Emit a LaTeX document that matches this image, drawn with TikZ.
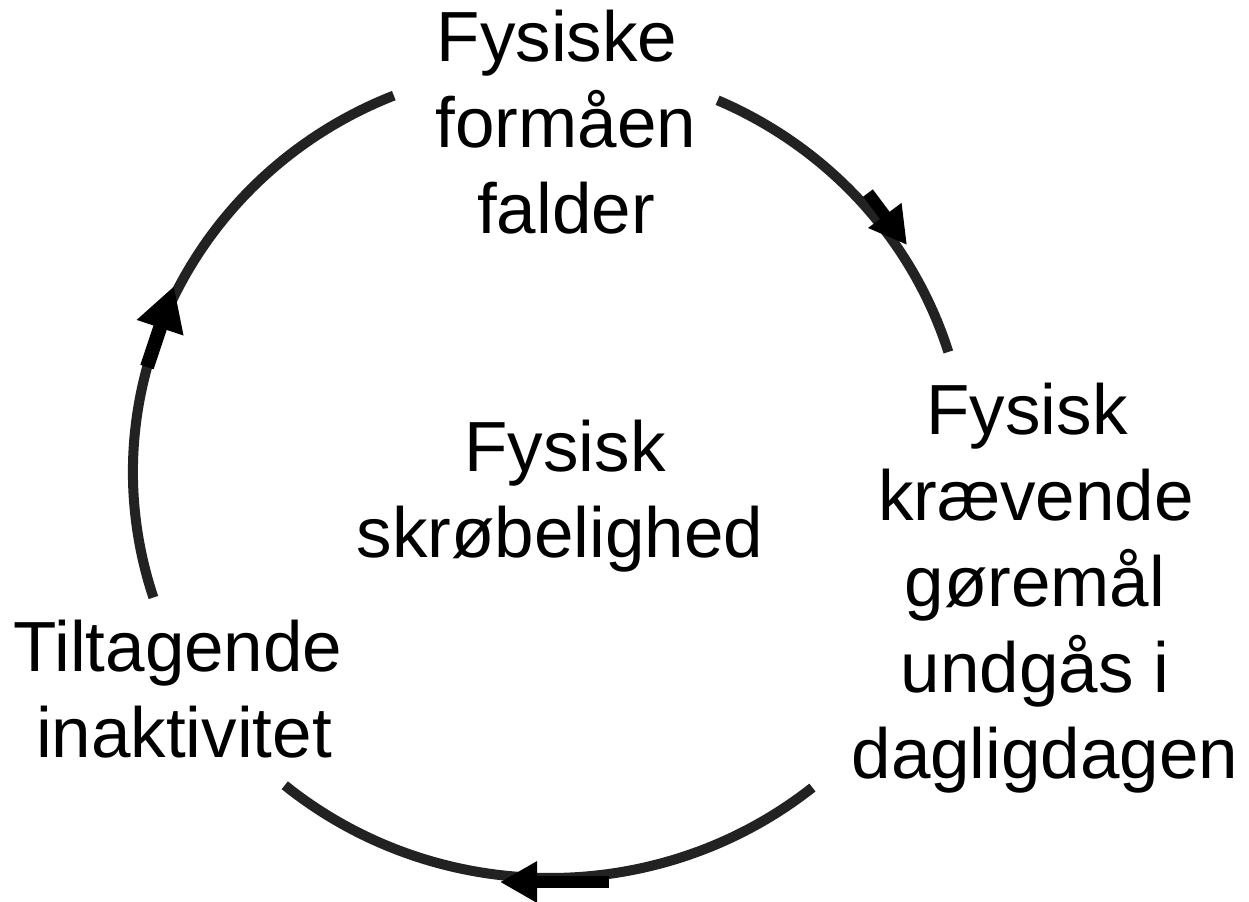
\documentclass[tikz,border=0pt]{standalone}
\usepackage{fontspec}
\setmainfont{Liberation Sans}
\usetikzlibrary{arrows.meta}
\definecolor{arcgray}{HTML}{222222}
\begin{document}
\begin{tikzpicture}[x=0.5pt,y=-0.5pt,
  cyclearc/.style={draw=arcgray,line width=5pt},
  cyclearrow/.style={draw=black,line width=6pt,-{Triangle[length=18.5pt,width=19.5pt]}},
  bigarrow/.style={draw=black,line width=7pt,-{Triangle[length=22pt,width=23pt]}},
  lbl/.style={anchor=base,align=center,inner sep=0pt,font=\fontsize{35.5pt}{43pt}\selectfont}]
\useasboundingbox (0,0) rectangle (1249,901);
\coordinate (c) at (550,472);
% labels (anchor = baseline of last line)
\node[lbl] (top) at (566,233) {Fysiske\kern9pt\\formåen\\falder};
\node[lbl] (right) at (1045,778) {Fysisk\kern18pt\\krævende\kern9pt\\gøremål\kern10pt\\undgås i\kern10pt\\dagligdagen};
\node[lbl] (left) at (184,757) {Tiltagende\kern6pt\\inaktivitet};
\node[lbl] (mid) at (560,557) {\kern5pt Fysisk\\skrøbelighed};
% arcs
\draw[cyclearc] (c) ++(-198:417 and 406) arc[start angle=-198,end angle=-112,x radius=417,y radius=406];
\draw[cyclearc] (c) ++(-66.3:417 and 406) arc[start angle=-66.3,end angle=-17.2,x radius=417,y radius=406];
\draw[cyclearc] (c) ++(51:417 and 406) arc[start angle=51,end angle=129.5,x radius=417,y radius=406];
% arrows
\coordinate (a1s) at (868,193); \coordinate (a1e) at (907,245);
\coordinate (a2s) at (609,882); \coordinate (a2e) at (500,882);
\coordinate (a3s) at (147,367); \coordinate (a3e) at (174,286);
\draw[cyclearrow] (a1s) -- (a1e);
\draw[cyclearrow] (a2s) -- (a2e);
\draw[bigarrow] (a3s) -- (a3e);
\end{tikzpicture}
\end{document}
